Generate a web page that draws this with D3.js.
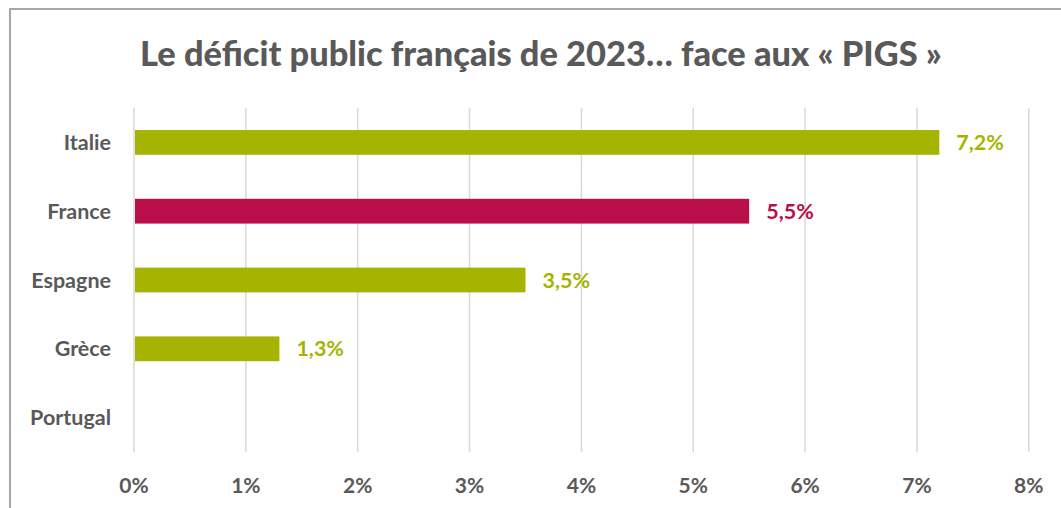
<!DOCTYPE html>
<html><head><meta charset="utf-8">
<script src="https://cdn.jsdelivr.net/npm/d3@7"></script>
<style>
html,body{margin:0;padding:0;background:#fff;}
svg{display:block;font-family:Lato,"Open Sans",sans-serif;}
</style></head>
<body>
<svg id="chart" width="1061" height="508"></svg>
<script>
const categories = ["Italie","France","Espagne","Grèce","Portugal"];
const values = [7.2, 5.5, 3.5, 1.3, null];
const labels = ["7,2%","5,5%","3,5%","1,3%",""];
const highlight = ["France"];
const tickValues = [0,1,2,3,4,5,6,7,8];
const tickLabels = ["0%","1%","2%","3%","4%","5%","6%","7%","8%"];
const title = "Le déficit public français de 2023… face aux « PIGS »";

const green = "#a5b400", red = "#b90e4a", textGray = "#595959", gridGray = "#d9d9d9";

const svg = d3.select("#chart");
// frame
svg.append("path").attr("d","M10,1000 V9 H1100").attr("fill","none")
  .attr("stroke","#a6a6a6").attr("stroke-width",2);

const x = d3.scaleLinear().domain([0,8]).range([134,1028.8]);
const y = d3.scaleBand().domain(categories).range([108,452]).padding(0);
const barH = y.step()*0.36;

// title
const t = svg.append("text").attr("x",541).attr("y",66).attr("text-anchor","middle")
  .attr("font-size",31).attr("font-weight",900).attr("fill",textGray).text(title);
const tw = t.node().getComputedTextLength();
t.attr("font-size", 31*802/tw);

// gridlines
svg.append("g").selectAll("line").data(tickValues).join("line")
  .attr("x1",d=>x(d)).attr("x2",d=>x(d)).attr("y1",108).attr("y2",452)
  .attr("stroke",gridGray).attr("stroke-width",1.5);

// x tick labels
svg.append("g").selectAll("text").data(tickValues).join("text")
  .attr("x",d=>x(d)).attr("y",493).attr("text-anchor","middle")
  .attr("font-size",21).attr("font-weight",700).attr("fill",textGray)
  .text((d,i)=>tickLabels[i]);

// category labels
svg.append("g").selectAll("text").data(categories).join("text")
  .attr("x",111).attr("y",d=>y(d)+y.bandwidth()/2).attr("dy","0.35em")
  .attr("text-anchor","end").attr("font-size",21.5).attr("font-weight",700)
  .attr("fill",textGray).text(d=>d);

const data = categories.map((c,i)=>({c, v: values[i], l: labels[i]}));
const col = d => highlight.includes(d.c) ? red : green;

svg.append("g").selectAll("rect").data(data.filter(d=>d.v!=null)).join("rect")
  .attr("x",x(0)+1).attr("y",d=>y(d.c)+y.bandwidth()/2-barH/2)
  .attr("width",d=>x(d.v)-x(0)-1).attr("height",barH).attr("fill",col);

svg.append("g").selectAll("text").data(data.filter(d=>d.v!=null)).join("text")
  .attr("x",d=>x(d.v)+17).attr("y",d=>y(d.c)+y.bandwidth()/2).attr("dy","0.35em")
  .attr("font-size",21.5).attr("font-weight",700).attr("fill",col).text(d=>d.l);
</script>
</body></html>
